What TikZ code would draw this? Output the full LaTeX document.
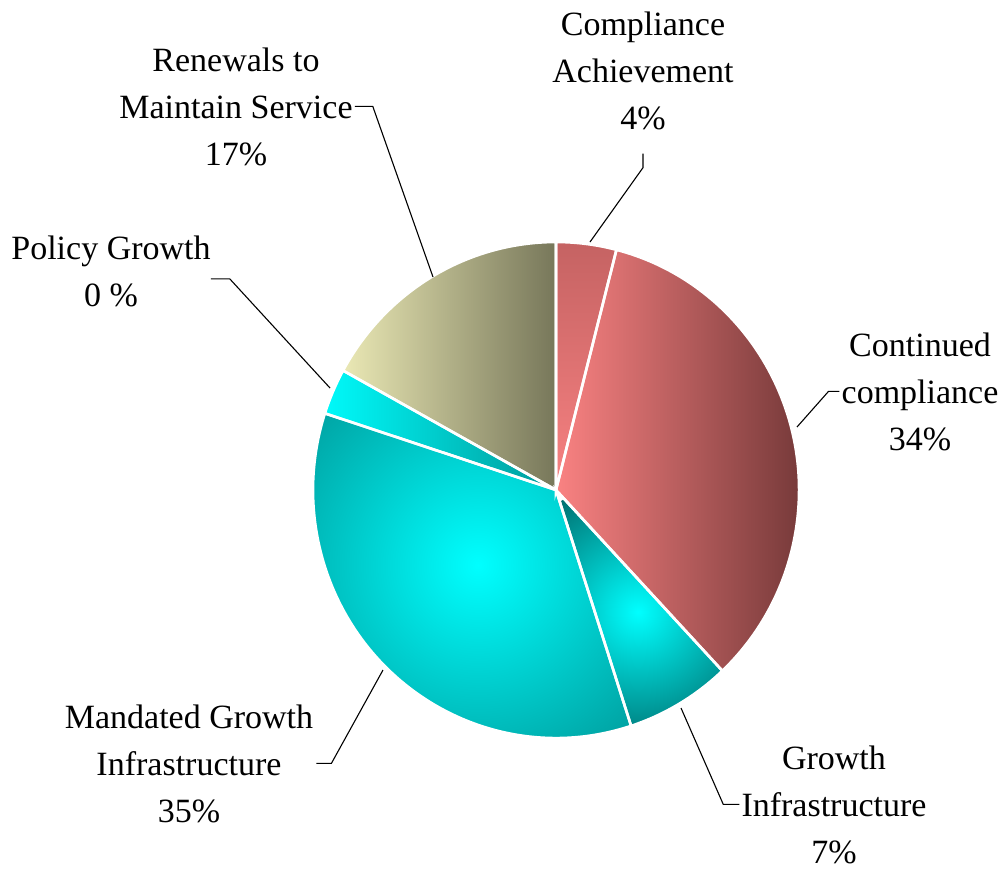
\documentclass[tikz,border=0pt]{standalone}
\usepackage{fontspec}
\setmainfont{Liberation Serif}
\begin{document}
\begin{tikzpicture}[x=1pt,y=1pt,
  slicepath/.style 2 args={insert path={(C) -- ++(#1:243 and 248) arc[start angle=#1,end angle=#2,x radius=243,y radius=248] -- cycle}},
  sep/.style={draw=white,line width=2.6},
  lbl/.style={font=\fontsize{34}{47}\selectfont,align=center,inner sep=0pt,anchor=base},
  leader/.style={draw=black,line width=1.1}]
\definecolor{caDark}{HTML}{C46262}
\definecolor{caLight}{HTML}{F88282}
\definecolor{ccLeft}{HTML}{FA8282}
\definecolor{ccMid}{HTML}{D86E6E}
\definecolor{ccRight}{HTML}{773A3A}
\definecolor{rmLeft}{HTML}{ECEAB6}
\definecolor{rmMid}{HTML}{B4B18C}
\definecolor{rmRight}{HTML}{77775A}
\definecolor{cyanB}{HTML}{00FFFF}
\definecolor{mgOut}{HTML}{00A6A6}
\definecolor{giOut}{HTML}{007272}
\definecolor{pgMid}{HTML}{00D6D6}
\definecolor{pgRight}{HTML}{009A9A}
\fill[white] (0,0) rectangle (1003,-871);
\useasboundingbox (0,0) rectangle (1003,-871);
\coordinate (C) at (556,-490);
% Compliance Achievement
\begin{scope}
  \path[clip,slicepath={90}{75.6}];
  \shade[top color=caDark,bottom color=caLight] (550,-236) rectangle (625,-492);
\end{scope}
% Continued compliance
\begin{scope}
  \path[clip,slicepath={75.6}{-46.8}];
  \shade[left color=ccLeft,middle color=ccMid,right color=ccRight] (556,-236) rectangle (800,-680);
\end{scope}
% Growth Infrastructure
\begin{scope}
  \path[clip,slicepath={-46.8}{-72}];
  \shade[inner color=cyanB,outer color=giOut] (638,-612) circle (135);
\end{scope}
% Mandated Growth Infrastructure
\begin{scope}
  \path[clip,slicepath={-72}{-198}];
  \fill[mgOut] (300,-380) rectangle (640,-745);
  \shade[inner color=cyanB,outer color=mgOut] (478,-565) circle (215);
\end{scope}
% Policy Growth
\begin{scope}
  \path[clip,slicepath={-198}{-208.8}];
  \shade[left color=cyanB,middle color=pgMid,right color=pgRight] (312,-370) rectangle (556,-492);
\end{scope}
% Renewals to Maintain Service
\begin{scope}
  \path[clip,slicepath={-208.8}{-270}];
  \shade[left color=rmLeft,middle color=rmMid,right color=rmRight] (340,-236) rectangle (556,-492);
\end{scope}
% white separators
\path[sep,slicepath={90}{75.6}];
\path[sep,slicepath={75.6}{-46.8}];
\path[sep,slicepath={-46.8}{-72}];
\path[sep,slicepath={-72}{-198}];
\path[sep,slicepath={-198}{-208.8}];
\path[sep,slicepath={-208.8}{-270}];
% labels (anchor = baseline of the last line)
\node[lbl] (ca) at (643,-129) {Compliance\\Achievement\\4\%};
\node[lbl] (rm) at (236,-165) {Renewals to\\Maintain Service\\17\%};
\node[lbl] (pg) at (111,-306) {Policy Growth\\0 \%};
\node[lbl] (cc) at (920,-450) {Continued\\compliance\\34\%};
\node[lbl] (gi) at (834,-863) {Growth\\Infrastructure\\7\%};
\node[lbl] (mg) at (189,-822) {Mandated Growth\\Infrastructure\\35\%};
% leader end points on the pie
\coordinate (caE) at (590,-242);
\coordinate (rmE) at (433,-277);
\coordinate (pgE) at (330,-388);
\coordinate (ccE) at (797,-427);
\coordinate (giE) at (681,-708);
\coordinate (mgE) at (383,-670);
% leaders
\draw[leader] ([yshift=-24]ca.south) -- ++(0,-14) -- (caE);
\draw[leader] ([xshift=2]rm.east) -- ++(18,0) -- (rmE);
\draw[leader] ([yshift=-8]pg.east) -- ++(19,0) -- (pgE);
\draw[leader] ([xshift=-2]cc.west) -- ++(-11,0) -- (ccE);
\draw[leader] ([xshift=-2]gi.west) -- ++(-16,0) -- (giE);
\draw[leader] ([xshift=3]mg.east) -- ++(15,0) -- (mgE);
\end{tikzpicture}
\end{document}
